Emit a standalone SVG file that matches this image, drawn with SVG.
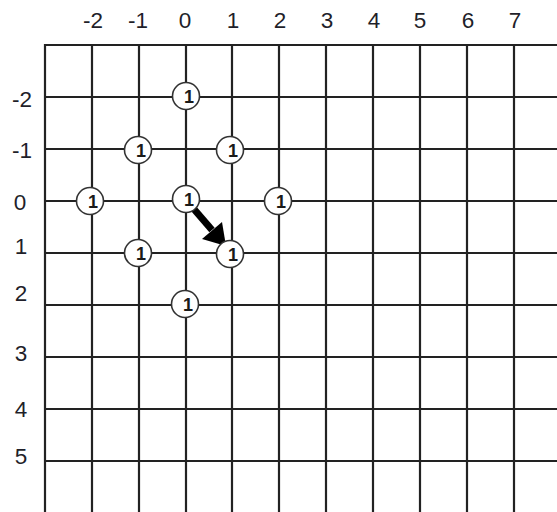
<svg xmlns="http://www.w3.org/2000/svg" width="557" height="512" viewBox="0 0 557 512">
<style>
.g line{stroke:#222;stroke-width:2.2}
.lbl{font-family:"Liberation Sans",Arial,sans-serif;font-size:22.5px;fill:#1f1f2a;text-anchor:middle}
.node circle{fill:#fff;stroke:#333;stroke-width:1.6}
.node text{font-family:"Liberation Sans",Arial,sans-serif;font-size:18px;font-weight:bold;fill:#1a1a1a;text-anchor:middle}
</style>
<rect width="557" height="512" fill="#fff"/>
<g class="g" id="grid">
<line x1="45" y1="45" x2="557" y2="45"/>
<line x1="45" y1="97" x2="557" y2="97"/>
<line x1="45" y1="149" x2="557" y2="149"/>
<line x1="45" y1="201" x2="557" y2="201"/>
<line x1="45" y1="253" x2="557" y2="253"/>
<line x1="45" y1="305" x2="557" y2="305"/>
<line x1="45" y1="357" x2="557" y2="357"/>
<line x1="45" y1="409" x2="557" y2="409"/>
<line x1="45" y1="461" x2="557" y2="461"/>
<line x1="45" y1="44" x2="45" y2="512"/>
<line x1="92" y1="44" x2="92" y2="512"/>
<line x1="139" y1="44" x2="139" y2="512"/>
<line x1="186" y1="44" x2="186" y2="512"/>
<line x1="232" y1="44" x2="232" y2="512"/>
<line x1="279" y1="44" x2="279" y2="512"/>
<line x1="326" y1="44" x2="326" y2="512"/>
<line x1="373" y1="44" x2="373" y2="512"/>
<line x1="420" y1="44" x2="420" y2="512"/>
<line x1="467" y1="44" x2="467" y2="512"/>
<line x1="514" y1="44" x2="514" y2="512"/>
</g>
<g id="col-labels">
<text class="lbl" x="93" y="28">-2</text>
<text class="lbl" x="138" y="28">-1</text>
<text class="lbl" x="185" y="28">0</text>
<text class="lbl" x="233" y="28">1</text>
<text class="lbl" x="280" y="28">2</text>
<text class="lbl" x="327" y="28">3</text>
<text class="lbl" x="374" y="28">4</text>
<text class="lbl" x="420" y="28">5</text>
<text class="lbl" x="468" y="28">6</text>
<text class="lbl" x="515" y="28">7</text>
</g>
<g id="row-labels">
<text class="lbl" x="22" y="107">-2</text>
<text class="lbl" x="22" y="158">-1</text>
<text class="lbl" x="20" y="210">0</text>
<text class="lbl" x="21" y="254">1</text>
<text class="lbl" x="21" y="301">2</text>
<text class="lbl" x="21" y="361">3</text>
<text class="lbl" x="21" y="417">4</text>
<text class="lbl" x="21" y="464">5</text>
</g>
<g id="connectors">
<line x1="193" y1="208" x2="212" y2="230" stroke="#000" stroke-width="7"/>
<polygon points="226,246 202,239 222,222" fill="#000"/>
</g>
<g class="node" id="n0m2"><circle cx="186" cy="96" r="13.5"/><text x="189" y="102.5">1</text></g>
<g class="node" id="nm1m1"><circle cx="138" cy="150" r="13.5"/><text x="141" y="156.5">1</text></g>
<g class="node" id="n1m1"><circle cx="230" cy="150" r="13.5"/><text x="233" y="156.5">1</text></g>
<g class="node" id="nm20"><circle cx="90" cy="201" r="13.5"/><text x="93" y="207.5">1</text></g>
<g class="node" id="n00"><circle cx="186" cy="199" r="13.5"/><text x="189" y="205.5">1</text></g>
<g class="node" id="n20"><circle cx="278" cy="201" r="13.5"/><text x="281" y="207.5">1</text></g>
<g class="node" id="nm11"><circle cx="138" cy="253" r="13.5"/><text x="141" y="259.5">1</text></g>
<g class="node" id="n11"><circle cx="230" cy="254" r="13.5"/><text x="233" y="260.5">1</text></g>
<g class="node" id="n02"><circle cx="185" cy="304" r="13.5"/><text x="188" y="310.5">1</text></g>
</svg>
